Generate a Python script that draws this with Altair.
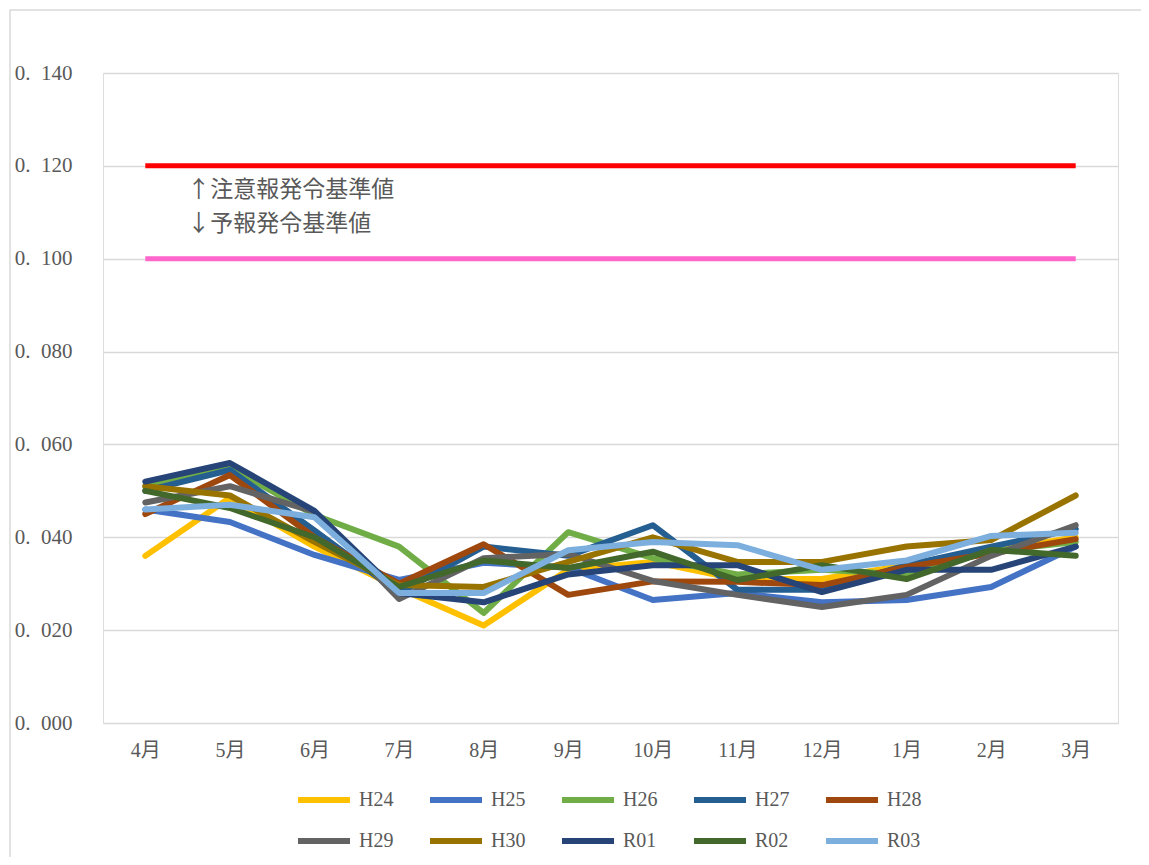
import altair as alt
import pandas as pd

months = ["4月", "5月", "6月", "7月", "8月", "9月", "10月", "11月", "12月", "1月", "2月", "3月"]

series_names = ["H24", "H25", "H26", "H27", "H28", "H29", "H30", "R01", "R02", "R03"]
series_colors = ["#FFC000", "#4472C4", "#70AD47", "#255E91", "#9E480E",
                 "#636363", "#997300", "#264478", "#43682B", "#7CAFDD"]

H24 = [0.036, 0.0485, 0.038, 0.029, 0.021, 0.033, 0.0347, 0.031, 0.031, 0.034, 0.037, 0.040]
H25 = [0.046, 0.0433, 0.0362, 0.0308, 0.0345, 0.0335, 0.0265, 0.028, 0.026, 0.0265, 0.0293, 0.038]
H26 = [0.051, 0.055, 0.0448, 0.038, 0.0237, 0.0411, 0.0355, 0.032, 0.033, 0.032, 0.037, 0.039]
H27 = [0.050, 0.0545, 0.0415, 0.028, 0.038, 0.036, 0.0426, 0.0287, 0.0287, 0.034, 0.038, 0.0418]
H28 = [0.045, 0.0534, 0.040, 0.030, 0.0385, 0.0276, 0.0305, 0.0304, 0.0297, 0.0336, 0.0365, 0.0396]
H29 = [0.0475, 0.051, 0.0455, 0.0267, 0.0355, 0.0364, 0.0306, 0.0276, 0.025, 0.0276, 0.036, 0.0426]
H30 = [0.051, 0.049, 0.039, 0.0297, 0.0293, 0.0347, 0.040, 0.0347, 0.0347, 0.038, 0.0394, 0.049]
R01 = [0.052, 0.056, 0.0457, 0.028, 0.026, 0.032, 0.034, 0.034, 0.0282, 0.033, 0.033, 0.038]
R02 = [0.050, 0.0463, 0.040, 0.0293, 0.035, 0.0334, 0.0369, 0.0308, 0.034, 0.031, 0.0373, 0.036]
R03 = [0.046, 0.047, 0.0443, 0.028, 0.028, 0.0372, 0.039, 0.0383, 0.033, 0.035, 0.0403, 0.041]

series_values = [H24, H25, H26, H27, H28, H29, H30, R01, R02, R03]

warn_level = 0.120   # 注意報発令基準値
pre_level = 0.100    # 予報発令基準値

ann_texts = ["↑注意報発令基準値", "↓予報発令基準値"]
ann_values = [0.1148, 0.1075]
ann_month = ["4月", "4月"]

y_ticks = [0.0, 0.02, 0.04, 0.06, 0.08, 0.10, 0.12, 0.14]

rows = []
for name, vals in zip(series_names, series_values):
    for m, v in zip(months, vals):
        rows.append({"month": m, "series": name, "value": v})
df = pd.DataFrame(rows)

df_warn = pd.DataFrame({"month": months, "value": [warn_level] * len(months)})
df_pre = pd.DataFrame({"month": months, "value": [pre_level] * len(months)})
df_ann = pd.DataFrame({"month": ann_month, "value": ann_values, "text": ann_texts})

SERIF = "Liberation Serif, Noto Sans CJK JP"
GRAY = "#595959"

x_enc = alt.X("month:N", sort=months,
              scale=alt.Scale(type="point", padding=0.5, domain=months),
              axis=alt.Axis(title=None, labelAngle=0, labelAlign="center", domain=False,
                            ticks=False, grid=False, labelPadding=27, labelFontSize=20,
                            labelFont=SERIF, labelColor=GRAY))
y_enc = alt.Y("value:Q",
              scale=alt.Scale(domain=[0, 0.14], nice=False, zero=True),
              axis=alt.Axis(title=None, values=y_ticks, domain=False, ticks=False,
                            grid=True, gridColor="#D9D9D9", gridWidth=1.5,
                            labelExpr="replace(format(datum.value, '.3f'), '.', '.\u2002')",
                            labelPadding=31, labelFontSize=21, labelFont=SERIF,
                            labelColor=GRAY))

border = alt.Chart(pd.DataFrame({"k": [0]})).mark_rect(
    fill=None, stroke="#D9D9D9", strokeWidth=1.5
).encode(x=alt.value(-93), x2=alt.value(2000), y=alt.value(-63), y2=alt.value(2000))

lines = alt.Chart(df).mark_line(strokeWidth=6, strokeCap="round", strokeJoin="round").encode(
    x=x_enc, y=y_enc,
    color=alt.Color("series:N", sort=series_names,
                    scale=alt.Scale(domain=series_names, range=series_colors),
                    legend=alt.Legend(title=None, orient="none", legendX=192, legendY=698,
                                      direction="horizontal",
                                      columns=5, symbolType="stroke", symbolSize=2704,
                                      symbolStrokeWidth=6, labelFont=SERIF, labelFontSize=20,
                                      labelColor=GRAY, labelOffset=6, columnPadding=24,
                                      rowPadding=-10)),
    detail="series:N",
)

warn = alt.Chart(df_warn).mark_line(strokeWidth=5, color="#FF0000").encode(
    x=alt.X("month:N", sort=months), y="value:Q")
pre = alt.Chart(df_pre).mark_line(strokeWidth=5, color="#FF66CC").encode(
    x=alt.X("month:N", sort=months), y="value:Q")

ann = alt.Chart(df_ann).mark_text(align="left", baseline="middle", dx=42, fontSize=23,
                                   font="Noto Sans CJK JP", color=GRAY).encode(
    x=alt.X("month:N", sort=months), y="value:Q", text="text:N")

chart = alt.layer(border, warn, pre, lines, ann).properties(
    width=1015, height=650,
    autosize=alt.AutoSizeParams(type="none"),
    padding={"left": 95, "top": 65, "right": 23, "bottom": 134},
).configure_view(stroke=None).configure(background="white")

chart.save("out.html", embed_options={"renderer": "svg", "actions": False})
